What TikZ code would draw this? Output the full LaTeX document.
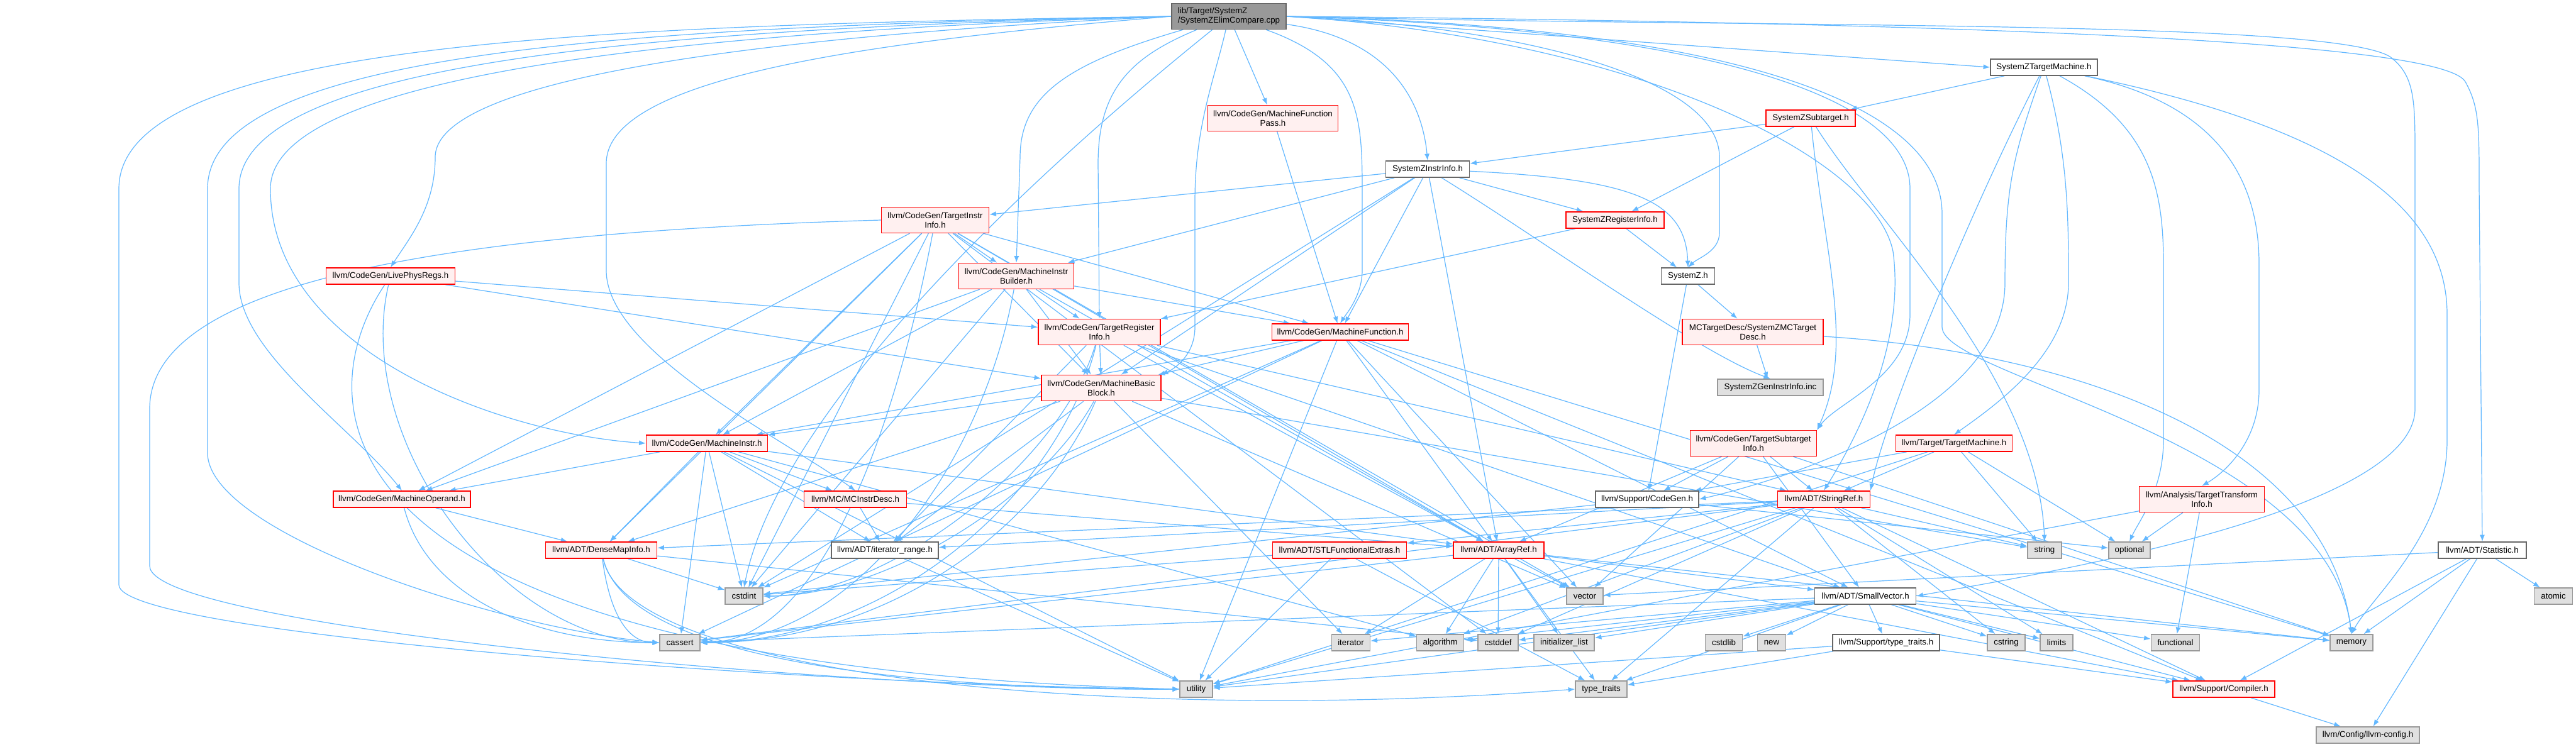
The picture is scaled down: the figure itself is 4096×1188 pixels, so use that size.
\documentclass[tikz,border=0pt]{standalone}
\usepackage{fontspec}
\setmainfont{Liberation Sans}
\usetikzlibrary{arrows.meta}
\definecolor{edgeblue}{HTML}{63B8FF}
\definecolor{nodered}{HTML}{FF0000}
\definecolor{nodefill}{HTML}{FFF0F0}
\definecolor{sysfill}{HTML}{E0E0E0}
\definecolor{sysborder}{HTML}{999999}
\definecolor{plainborder}{HTML}{666666}
\definecolor{rootfill}{HTML}{999999}
\pgfdeclarelayer{bg}
\pgfdeclarelayer{edges}
\pgfsetlayers{bg,edges,main}
\tikzset{
  base/.style={rectangle, inner sep=0pt, font=\fontsize{10}{11.25}\selectfont, align=center, line width=1.1pt, minimum height=19.5pt},
  two/.style={minimum height=30.75pt},
  wd/.style={minimum width=#1*0.75pt},
  hdr/.style={base, draw=nodered, fill=nodefill},
  sys/.style={base, draw=sysborder, fill=sysfill},
  plain/.style={base, draw=plainborder, fill=white},
  rootbox/.style={base, draw=plainborder, fill=rootfill, align=left},
  dep/.style={draw=edgeblue, line width=0.9pt, -{Latex[length=8pt,width=6pt]}}
}
\begin{document}
\begin{tikzpicture}[x=0.75pt,y=-0.75pt]
\begin{pgfonlayer}{bg}
\fill[white] (0,0) rectangle (4096,1188);
\end{pgfonlayer}
\path[use as bounding box] (0,0) rectangle (4096,1188);
% nodes
\node[rootbox, two, wd=182] (root) at (1954,26) {lib/Target/SystemZ\\/SystemZElimCompare.cpp};
\node[plain, wd=170] (ztm) at (3250,107) {SystemZTargetMachine.h};
\node[hdr, two, wd=207] (mfp) at (2024,188) {llvm/CodeGen/MachineFunction\\Pass.h};
\node[hdr, wd=142] (zsub) at (2879,188) {SystemZSubtarget.h};
\node[plain, wd=133] (zii) at (2270,269) {SystemZInstrInfo.h};
\node[hdr, two, wd=171] (tii) at (1487,350) {llvm/CodeGen/TargetInstr\\Info.h};
\node[hdr, wd=156] (zri) at (2568,350) {SystemZRegisterInfo.h};
\node[hdr, wd=205] (lpr) at (621,439) {llvm/CodeGen/LivePhysRegs.h};
\node[hdr, two, wd=183] (mib) at (1616,439) {llvm/CodeGen/MachineInstr\\Builder.h};
\node[plain, wd=85] (zh) at (2684,439) {SystemZ.h};
\node[hdr, two, wd=194] (tri) at (1748,528) {llvm/CodeGen/TargetRegister\\Info.h};
\node[hdr, wd=217] (mf) at (2131,528) {llvm/CodeGen/MachineFunction.h};
\node[hdr, two, wd=224] (mctd) at (2787,528) {MCTargetDesc/SystemZMCTarget\\Desc.h};
\node[hdr, two, wd=190] (mbb) at (1751,617) {llvm/CodeGen/MachineBasic\\Block.h};
\node[sys, wd=168] (geninc) at (2815,616) {SystemZGenInstrInfo.inc};
\node[hdr, wd=193] (mi) at (1124,705) {llvm/CodeGen/MachineInstr.h};
\node[hdr, two, wd=201] (tsi) at (2788,705) {llvm/CodeGen/TargetSubtarget\\Info.h};
\node[hdr, wd=185] (tm) at (3107,705) {llvm/Target/TargetMachine.h};
\node[hdr, wd=218] (mo) at (639,794) {llvm/CodeGen/MachineOperand.h};
\node[hdr, wd=163] (mcid) at (1360,794) {llvm/MC/MCInstrDesc.h};
\node[plain, wd=164] (cg) at (2619,794) {llvm/Support/CodeGen.h};
\node[hdr, wd=147] (sr) at (2900,794) {llvm/ADT/StringRef.h};
\node[hdr, two, wd=199] (tti) at (3501,794) {llvm/Analysis/TargetTransform\\Info.h};
\node[hdr, wd=177] (dmi) at (956,875) {llvm/ADT/DenseMapInfo.h};
\node[plain, wd=170] (ir) at (1407,875) {llvm/ADT/iterator\_range.h};
\node[hdr, wd=213] (stlfe) at (2130,875) {llvm/ADT/STLFunctionalExtras.h};
\node[hdr, wd=144] (ar) at (2383,875) {llvm/ADT/ArrayRef.h};
\node[sys, wd=54] (str) at (3251,875) {string};
\node[sys, wd=66] (opt) at (3386,875) {optional};
\node[plain, wd=140] (stat) at (3947,875) {llvm/ADT/Statistic.h};
\node[sys, wd=60] (cstdint) at (1183,948) {cstdint};
\node[sys, wd=58] (vector) at (2520,948) {vector};
\node[plain, wd=161] (sv) at (2966,948) {llvm/ADT/SmallVector.h};
\node[sys, wd=61] (atomic) at (4060,948) {atomic};
\node[sys, wd=64] (cassert) at (1081,1022) {cassert};
\node[sys, wd=61] (iterator) at (2148,1022) {iterator};
\node[sys, wd=75] (algorithm) at (2290,1022) {algorithm};
\node[sys, wd=64] (cstddef) at (2382,1022) {cstddef};
\node[sys, wd=96] (initlist) at (2487,1022) {initializer\_list};
\node[sys, wd=59] (cstdlib) at (2741,1022) {cstdlib};
\node[sys, wd=45] (new) at (2817,1022) {new};
\node[plain, wd=170] (stt) at (2999,1022) {llvm/Support/type\_traits.h};
\node[sys, wd=60] (cstring) at (3190,1022) {cstring};
\node[sys, wd=52] (limits) at (3270,1022) {limits};
\node[sys, wd=77] (functional) at (3459,1022) {functional};
\node[sys, wd=68] (memory) at (3739,1022) {memory};
\node[sys, wd=52] (utility) at (1902,1096) {utility};
\node[sys, wd=82] (tt) at (2546,1096) {type\_traits};
\node[hdr, wd=162] (comp) at (3536,1096) {llvm/Support/Compiler.h};
\node[sys, wd=164] (cfg) at (3765,1169) {llvm/Config/llvm-config.h};
% edges
\begin{pgfonlayer}{edges}
% root
\draw[dep] (root.west) .. controls (1000,40) and (189,60) .. (189,300) -- (189,930) .. controls (189,1010) and (1300,1090) .. (utility.west);
\draw[dep] (root.west) .. controls (1050,42) and (330,75) .. (330,300) -- (330,720) .. controls (330,850) and (800,1000) .. (cassert.west);
\draw[dep] (root.west) .. controls (1100,45) and (380,90) .. (380,300) -- (380,450) .. controls (380,560) and (560,680) .. (mo.north);
\draw[dep] (root.west) .. controls (1150,48) and (430,110) .. (430,300) .. controls (430,560) and (800,690) .. (mi.west);
\draw[dep] (root.west) .. controls (1250,55) and (692,120) .. (692,250) .. controls (692,330) and (650,380) .. (lpr.north);
\draw[dep] (root.west) .. controls (1400,65) and (964,120) .. (964,260) -- (964,430) .. controls (964,560) and (1250,700) .. (mcid.north);
\draw[dep] (root) .. controls (1800,150) and (1250,600) .. (cstdint.north);
\draw[dep] (root) .. controls (1700,100) and (1622,150) .. (1622,250) -- (mib.north);
\draw[dep] (root) .. controls (1800,90) and (1746,140) .. (1746,260) -- (tri.north);
\draw[dep] (root) .. controls (1930,130) and (1900,200) .. (1900,320) -- (1900,520) .. controls (1900,570) and (1860,590) .. (mbb.north east);
\draw[dep] (root) -- (mfp);
\draw[dep] (root) .. controls (2160,100) and (2166,180) .. (2166,300) -- (2166,430) .. controls (2166,470) and (2140,500) .. (mf.north);
\draw[dep] (root) .. controls (2200,60) and (2260,150) .. (zii.north);
\draw[dep] (root.east) .. controls (2400,40) and (2734,120) .. (2734,250) -- (2734,370) .. controls (2734,400) and (2700,410) .. (zh.north);
\draw[dep] (root.east) .. controls (2700,45) and (3037,150) .. (3037,300) -- (3037,500) .. controls (3037,600) and (2920,640) .. (tsi.north east);
\draw[dep] (root.east) .. controls (2700,40) and (3088,150) .. (3088,340) -- (3088,520) .. controls (3088,600) and (3700,700) .. (memory.north);
\draw[dep] (root.east) .. controls (2600,60) and (2980,250) .. (3010,400) .. controls (3030,550) and (2950,700) .. (sr.north);
\draw[dep] (root.east) -- (ztm.west);
\draw[dep] (root.east) .. controls (2800,45) and (3700,30) .. (3800,90) .. controls (3840,120) and (3840,160) .. (3840,250) -- (3840,650) .. controls (3840,820) and (3200,920) .. (sv.east);
\draw[dep] (root.east) .. controls (3000,35) and (3880,60) .. (3920,130) .. controls (3942,170) and (3942,200) .. (3942,300) -- (stat.north);
% SystemZTargetMachine
\draw[dep] (ztm) -- (zsub);
\draw[dep] (ztm) .. controls (3420,200) and (3440,300) .. (3440,420) -- (3440,700) .. controls (3440,780) and (3400,830) .. (opt.north);
\draw[dep] (ztm) .. controls (3500,160) and (3592,260) .. (3592,420) -- (3592,620) .. controls (3592,700) and (3540,750) .. (tti.north);
\draw[dep] (ztm) .. controls (3700,200) and (3891,320) .. (3891,500) -- (3891,700) .. controls (3891,850) and (3770,950) .. (memory.north);
\draw[dep] (ztm) .. controls (3289,250) and (3289,350) .. (3289,450) .. controls (3289,560) and (3180,640) .. (tm.north);
\draw[dep] (ztm) .. controls (3200,250) and (3188,300) .. (3188,450) .. controls (3188,650) and (2850,760) .. (cg.east);
\draw[dep] (ztm) .. controls (3150,300) and (3000,650) .. (sr.north east);
% SystemZSubtarget
\draw[dep] (zsub) -- (zii);
\draw[dep] (zsub) -- (zri);
\draw[dep] (zsub) .. controls (2900,400) and (2950,550) .. (tsi.north east);
\draw[dep] (zsub) .. controls (2980,350) and (3240,600) .. (str.north);
% SystemZInstrInfo
\draw[dep] (zii) .. controls (2600,285) and (2680,320) .. (zh.north);
\draw[dep] (zii) -- (zri);
\draw[dep] (zii) .. controls (2450,380) and (2700,560) .. (geninc.north);
\draw[dep] (zii) -- (ar);
\draw[dep] (zii) -- (mbb);
\draw[dep] (zii) -- (mf);
\draw[dep] (zii) -- (mib);
\draw[dep] (zii) -- (tii);
\draw[dep] (zii) -- (cstdint);
% SystemZRegisterInfo, SystemZ.h, MCTargetDesc
\draw[dep] (zri) -- (zh);
\draw[dep] (zri) -- (tri);
\draw[dep] (zh) -- (mctd);
\draw[dep] (zh) -- (cg);
\draw[dep] (mctd) -- (geninc);
\draw[dep] (mctd) .. controls (3300,560) and (3700,700) .. (memory.north);
% MachineFunctionPass
\draw[dep] (mfp) -- (mf);
% LivePhysRegs
\draw[dep] (lpr) -- (mbb);
\draw[dep] (lpr) -- (tri);
\draw[dep] (lpr) .. controls (560,700) and (800,1022) .. (cassert.west);
\draw[dep] (lpr) .. controls (480,650) and (500,1060) .. (utility.west);
% TargetInstrInfo
\draw[dep] (tii) -- (ar);
\draw[dep] (tii) -- (dmi);
\draw[dep] (tii) -- (mbb);
\draw[dep] (tii) -- (mf);
\draw[dep] (tii) -- (mi);
\draw[dep] (tii) -- (mib);
\draw[dep] (tii) -- (mo);
\draw[dep] (tii) .. controls (1420,700) and (1300,1022) .. (cassert.east);
\draw[dep] (tii) -- (cstddef);
\draw[dep] (tii) -- (cstdint);
\draw[dep] (tii.west) .. controls (700,370) and (238,450) .. (238,650) -- (238,900) .. controls (238,1000) and (1400,1100) .. (utility.west);
\draw[dep] (tii) -- (vector);
% MachineInstrBuilder
\draw[dep] (mib) -- (ar);
\draw[dep] (mib) -- (mbb);
\draw[dep] (mib) -- (mf);
\draw[dep] (mib) -- (mi);
\draw[dep] (mib) -- (mo);
\draw[dep] (mib) -- (tri);
\draw[dep] (mib) .. controls (1560,750) and (1350,1022) .. (cassert.east);
\draw[dep] (mib) -- (cstdint);
% TargetRegisterInfo
\draw[dep] (tri) -- (ar);
\draw[dep] (tri) -- (sv);
\draw[dep] (tri) -- (sr);
\draw[dep] (tri) -- (ir);
\draw[dep] (tri) -- (mbb);
\draw[dep] (tri) .. controls (1680,800) and (1400,1022) .. (cassert.east);
\draw[dep] (tri) .. controls (1680,750) and (1400,948) .. (cstdint.east);
% MachineFunction
\draw[dep] (mf) -- (ar);
\draw[dep] (mf) -- (sv);
\draw[dep] (mf) -- (mbb);
\draw[dep] (mf) -- (mi);
\draw[dep] (mf) -- (comp);
\draw[dep] (mf) -- (cassert);
\draw[dep] (mf) -- (cstdint);
\draw[dep] (mf) -- (memory);
\draw[dep] (mf) -- (utility);
\draw[dep] (mf) -- (vector);
% MachineBasicBlock
\draw[dep] (mbb) -- (dmi);
\draw[dep] (mbb) -- (ir);
\draw[dep] (mbb) -- (mi);
\draw[dep] (mbb) .. controls (1650,850) and (1400,1022) .. (cassert.east);
\draw[dep] (mbb) .. controls (1650,800) and (1400,948) .. (cstdint.east);
\draw[dep] (mbb) -- (iterator);
\draw[dep] (mbb) -- (str);
\draw[dep] (mbb) -- (vector);
% MachineInstr
\draw[dep] (mi) -- (ar);
\draw[dep] (mi) -- (dmi);
\draw[dep] (mi) -- (ir);
\draw[dep] (mi) -- (mo);
\draw[dep] (mi) -- (mcid);
\draw[dep] (mi) -- (algorithm);
\draw[dep] (mi) -- (cassert);
\draw[dep] (mi) -- (cstdint);
\draw[dep] (mi) -- (utility);
% MachineOperand, MCInstrDesc
\draw[dep] (mo) -- (dmi);
\draw[dep] (mo) .. controls (680,950) and (850,1022) .. (cassert.west);
\draw[dep] (mcid) -- (ar);
\draw[dep] (mcid) -- (ir);
% DenseMapInfo, iterator_range
\draw[dep] (dmi) .. controls (970,980) and (1000,1022) .. (cassert.west);
\draw[dep] (dmi) -- (cstddef);
\draw[dep] (dmi) -- (cstdint);
\draw[dep] (dmi) .. controls (1000,1080) and (1800,1150) .. (tt.west);
\draw[dep] (dmi) .. controls (1000,1060) and (1500,1096) .. (utility.west);
\draw[dep] (ir) -- (utility);
% TargetSubtargetInfo
\draw[dep] (tsi) -- (ar);
\draw[dep] (tsi) -- (sv);
\draw[dep] (tsi) -- (sr);
\draw[dep] (tsi) -- (cg);
\draw[dep] (tsi) -- (memory);
\draw[dep] (tsi) -- (vector);
% CodeGen.h
\draw[dep] (cg) -- (cstdint);
\draw[dep] (cg) -- (opt);
% StringRef
\draw[dep] (sr) -- (dmi);
\draw[dep] (sr) -- (stlfe);
\draw[dep] (sr) -- (ir);
\draw[dep] (sr) -- (comp);
\draw[dep] (sr) -- (algorithm);
\draw[dep] (sr) -- (cassert);
\draw[dep] (sr) -- (cstddef);
\draw[dep] (sr) -- (cstring);
\draw[dep] (sr) -- (limits);
\draw[dep] (sr) -- (str);
\draw[dep] (sr) -- (tt);
\draw[dep] (sr) -- (utility);
% STLFunctionalExtras
\draw[dep] (stlfe) -- (cstdint);
\draw[dep] (stlfe) -- (tt);
\draw[dep] (stlfe) -- (utility);
% ArrayRef
\draw[dep] (ar) -- (sv);
\draw[dep] (ar) -- (comp);
\draw[dep] (ar) -- (algorithm);
\draw[dep] (ar) -- (cassert);
\draw[dep] (ar) -- (cstddef);
\draw[dep] (ar) -- (initlist);
\draw[dep] (ar) -- (iterator);
\draw[dep] (ar) -- (memory);
\draw[dep] (ar) -- (tt);
\draw[dep] (ar) -- (vector);
% SmallVector
\draw[dep] (sv) -- (comp);
\draw[dep] (sv) -- (stt);
\draw[dep] (sv) -- (algorithm);
\draw[dep] (sv) -- (cassert);
\draw[dep] (sv) -- (cstddef);
\draw[dep] (sv) -- (cstdlib);
\draw[dep] (sv) -- (cstring);
\draw[dep] (sv) -- (functional);
\draw[dep] (sv) -- (initlist);
\draw[dep] (sv) -- (iterator);
\draw[dep] (sv) -- (limits);
\draw[dep] (sv) -- (memory);
\draw[dep] (sv) -- (new);
\draw[dep] (sv) -- (tt);
\draw[dep] (sv) -- (utility);
% type_traits.h, Compiler.h, Statistic.h
\draw[dep] (stt) -- (comp);
\draw[dep] (stt) -- (tt);
\draw[dep] (stt) -- (utility);
\draw[dep] (comp) -- (cfg);
\draw[dep] (stat) -- (cfg);
\draw[dep] (stat) -- (comp);
\draw[dep] (stat) -- (atomic);
\draw[dep] (stat) -- (memory);
\draw[dep] (stat) -- (vector);
% TargetMachine, TargetTransformInfo
\draw[dep] (tm) -- (sr);
\draw[dep] (tm) -- (cg);
\draw[dep] (tm) -- (opt);
\draw[dep] (tm) -- (str);
\draw[dep] (tm) -- (utility);
\draw[dep] (tti) -- (functional);
\draw[dep] (tti) -- (opt);
\draw[dep] (tti) -- (utility);
\end{pgfonlayer}
\end{tikzpicture}
\end{document}
